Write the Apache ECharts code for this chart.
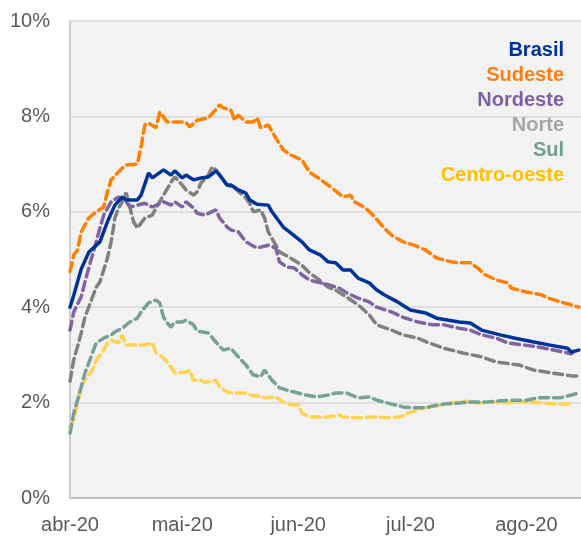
<!DOCTYPE html>
<html>
<head>
<meta charset="utf-8">
<script src="https://cdn.jsdelivr.net/npm/echarts@6/dist/echarts.min.js"></script>
<style>
  html, body { margin: 0; padding: 0; background: #fff; }
  #chart { width: 581px; height: 536px; }
</style>
</head>
<body>
<div id="chart"></div>
<script>
// dias contados a partir de 01/04/2020, valores em %
const mesesPt = ['jan', 'fev', 'mar', 'abr', 'mai', 'jun', 'jul', 'ago', 'set', 'out', 'nov', 'dez'];

const brasilDias = [0, 1, 3, 5, 8, 10, 12, 14, 15, 18, 19, 21, 22, 25, 27, 28, 30, 31, 33, 35, 37, 39, 40, 42, 43, 45, 47, 48, 50, 53, 54, 57, 59, 62, 64, 67, 69, 71, 73, 75, 77, 80, 82, 84, 88, 91, 95, 98, 104, 107, 110, 115, 119, 124, 128, 133, 134, 136];
const brasilValores = [4.0, 4.25, 4.8, 5.15, 5.37, 5.79, 6.14, 6.31, 6.25, 6.25, 6.35, 6.81, 6.71, 6.88, 6.77, 6.86, 6.71, 6.77, 6.67, 6.71, 6.73, 6.86, 6.77, 6.56, 6.56, 6.46, 6.39, 6.25, 6.16, 6.14, 6.0, 5.68, 5.56, 5.37, 5.2, 5.09, 4.95, 4.93, 4.78, 4.78, 4.61, 4.51, 4.36, 4.26, 4.09, 3.94, 3.88, 3.77, 3.69, 3.67, 3.52, 3.42, 3.35, 3.27, 3.21, 3.14, 3.06, 3.1];

const sudesteDias = [0, 1, 2, 3, 5, 7, 9, 10, 11, 14, 15, 18, 19, 20, 21, 23, 24, 26, 28, 31, 32, 34, 37, 40, 41, 43, 44, 45, 47, 49, 50, 51, 53, 55, 57, 59, 62, 64, 66, 69, 70, 73, 75, 76, 79, 81, 84, 86, 89, 92, 95, 98, 102, 104, 107, 109, 111, 114, 117, 118, 122, 126, 128, 131, 134, 136];
const sudesteValores = [4.75, 5.09, 5.2, 5.58, 5.87, 6.0, 6.1, 6.42, 6.67, 6.92, 6.98, 7.0, 7.36, 7.82, 7.86, 7.76, 8.09, 7.88, 7.88, 7.88, 7.78, 7.92, 7.97, 8.24, 8.18, 8.13, 7.92, 8.03, 7.88, 7.88, 7.97, 7.76, 7.82, 7.55, 7.3, 7.19, 7.09, 6.83, 6.73, 6.56, 6.5, 6.31, 6.35, 6.21, 6.08, 5.93, 5.66, 5.51, 5.37, 5.3, 5.2, 5.03, 4.95, 4.93, 4.93, 4.82, 4.68, 4.57, 4.51, 4.4, 4.32, 4.26, 4.19, 4.11, 4.05, 4.0];

const nordesteDias = [0, 1, 3, 4, 5, 7, 8, 9, 11, 13, 15, 16, 18, 20, 22, 25, 27, 28, 30, 31, 33, 34, 36, 39, 40, 42, 43, 45, 47, 50, 53, 55, 56, 58, 60, 62, 64, 67, 69, 72, 74, 77, 80, 82, 86, 89, 93, 97, 100, 104, 107, 110, 114, 117, 121, 125, 128, 132, 134, 135];
const nordesteValores = [3.52, 3.9, 4.22, 4.53, 4.82, 5.37, 5.66, 5.93, 6.21, 6.31, 6.21, 6.1, 6.14, 6.18, 6.1, 6.21, 6.14, 6.21, 6.1, 6.21, 6.08, 5.97, 5.93, 6.04, 5.87, 5.68, 5.62, 5.58, 5.37, 5.24, 5.3, 5.24, 4.95, 4.84, 4.82, 4.68, 4.57, 4.51, 4.47, 4.4, 4.3, 4.19, 4.11, 4.0, 3.9, 3.79, 3.69, 3.63, 3.63, 3.56, 3.52, 3.42, 3.35, 3.25, 3.21, 3.17, 3.12, 3.06, 3.02, 3.1];

const norteDias = [0, 1, 2, 3, 4, 6, 7, 8, 10, 11, 12, 13, 14, 15, 17, 18, 20, 22, 23, 25, 27, 28, 30, 31, 33, 34, 35, 37, 38, 39, 42, 44, 47, 48, 49, 51, 52, 53, 55, 56, 59, 62, 64, 66, 69, 71, 74, 77, 80, 82, 86, 89, 93, 96, 100, 105, 110, 114, 120, 124, 129, 134, 136];
const norteValores = [2.45, 2.9, 3.17, 3.46, 3.79, 4.21, 4.42, 4.53, 5.03, 5.37, 5.87, 6.08, 6.21, 6.4, 5.79, 5.66, 5.87, 5.93, 6.08, 6.35, 6.62, 6.73, 6.56, 6.46, 6.35, 6.42, 6.6, 6.77, 6.94, 6.88, 6.56, 6.5, 6.29, 6.18, 6.0, 6.04, 5.87, 5.58, 5.3, 5.16, 5.03, 4.88, 4.72, 4.61, 4.42, 4.36, 4.21, 4.05, 3.84, 3.63, 3.52, 3.42, 3.35, 3.25, 3.14, 3.04, 2.96, 2.85, 2.79, 2.68, 2.62, 2.56, 2.56];

const sulDias = [0, 1, 2, 3, 4, 5, 6, 7, 9, 11, 12, 14, 16, 18, 19, 21, 23, 24, 25, 26, 27, 28, 30, 31, 33, 34, 37, 39, 41, 43, 45, 47, 49, 51, 52, 54, 56, 58, 61, 63, 66, 69, 71, 74, 77, 80, 82, 85, 89, 92, 95, 97, 100, 104, 107, 111, 114, 118, 122, 125, 129, 131, 134, 136];
const sulValores = [1.36, 1.78, 2.05, 2.33, 2.62, 2.83, 3.04, 3.25, 3.35, 3.42, 3.48, 3.56, 3.69, 3.77, 3.9, 4.09, 4.15, 4.09, 3.79, 3.67, 3.58, 3.69, 3.69, 3.73, 3.63, 3.5, 3.46, 3.27, 3.1, 3.14, 2.96, 2.79, 2.58, 2.54, 2.68, 2.47, 2.31, 2.26, 2.2, 2.16, 2.12, 2.16, 2.2, 2.2, 2.1, 2.12, 2.05, 1.99, 1.91, 1.89, 1.89, 1.93, 1.97, 1.99, 2.01, 2.01, 2.03, 2.05, 2.05, 2.1, 2.1, 2.1, 2.16, 2.2];

const centroOesteDias = [0, 1, 2, 3, 4, 5, 6, 7, 9, 10, 11, 13, 14, 15, 17, 20, 22, 23, 25, 27, 28, 31, 32, 33, 35, 36, 37, 39, 40, 42, 44, 47, 49, 51, 52, 55, 57, 58, 61, 62, 64, 67, 69, 72, 73, 77, 81, 86, 89, 91, 95, 98, 102, 106, 109, 113, 116, 120, 123, 127, 130, 134];
const centroOesteValores = [1.49, 1.64, 1.99, 2.33, 2.47, 2.58, 2.68, 2.89, 3.1, 3.25, 3.31, 3.25, 3.42, 3.21, 3.21, 3.21, 3.25, 3.04, 2.94, 2.75, 2.62, 2.64, 2.68, 2.47, 2.47, 2.43, 2.43, 2.47, 2.33, 2.22, 2.2, 2.2, 2.14, 2.14, 2.1, 2.12, 2.01, 1.97, 1.95, 1.78, 1.7, 1.7, 1.7, 1.74, 1.7, 1.68, 1.7, 1.68, 1.72, 1.8, 1.89, 1.93, 1.99, 2.03, 1.99, 2.01, 1.99, 2.01, 2.01, 1.99, 1.97, 1.97];

const inicio = new Date(2020, 3, 1).getTime();
const umDia = 86400000;

function pontos(dias, valores) {
  return dias.map((d, i) => [inicio + d * umDia, valores[i]]);
}

const regioes = [
  { name: 'Brasil', dias: brasilDias, valores: brasilValores, cor: '#003399', texto: '#003399', tipo: 'solid' },
  { name: 'Sudeste', dias: sudesteDias, valores: sudesteValores, cor: '#FF8000', texto: '#FF7F0E', tipo: [9, 5] },
  { name: 'Nordeste', dias: nordesteDias, valores: nordesteValores, cor: '#8064A2', texto: '#7F5FA5', tipo: [9, 5] },
  { name: 'Norte', dias: norteDias, valores: norteValores, cor: '#808080', texto: '#A6A6A6', tipo: [9, 5] },
  { name: 'Sul', dias: sulDias, valores: sulValores, cor: '#76A296', texto: '#6F9F92', tipo: [9, 5] },
  { name: 'Centro-oeste', dias: centroOesteDias, valores: centroOesteValores, cor: '#FFD34F', texto: '#FFC000', tipo: [9, 5] }
];

const chart = echarts.init(document.getElementById('chart'));
chart.setOption({
  animation: false,
  textStyle: { fontFamily: 'Liberation Sans, Arial, sans-serif' },
  grid: {
    left: 70, right: 0, top: 21, bottom: 38,
    show: true, backgroundColor: '#F2F2F2', borderWidth: 0
  },
  legend: {
    orient: 'vertical',
    right: 7,
    top: 35,
    align: 'right',
    icon: 'none',
    itemWidth: 0,
    itemHeight: 14,
    itemGap: 5,
    selectedMode: false,
    textStyle: { fontSize: 20, fontWeight: 'bold', lineHeight: 20, padding: 0 },
    data: regioes.map(r => ({ name: r.name, textStyle: { color: r.texto } }))
  },
  xAxis: {
    type: 'time',
    min: inicio,
    max: inicio + 136.6 * umDia,
    axisLine: { show: true, lineStyle: { color: '#BFBFBF', width: 2 } },
    axisTick: { show: false },
    splitLine: { show: false },
    axisLabel: {
      color: '#595959',
      fontSize: 20,
      margin: 17,
      hideOverlap: false,
      formatter: function (v) {
        const d = new Date(v);
        return mesesPt[d.getMonth()] + '-' + String(d.getFullYear()).slice(2);
      }
    }
  },
  yAxis: {
    type: 'value',
    min: 0,
    max: 10,
    interval: 2,
    axisLine: { show: true, lineStyle: { color: '#BFBFBF', width: 1.5 } },
    axisTick: { show: false },
    splitLine: { lineStyle: { color: '#D9D9D9', width: 1.5 } },
    axisLabel: { color: '#595959', fontSize: 20, margin: 20, formatter: '{value}%' }
  },
  series: regioes.map(r => ({
    name: r.name,
    type: 'line',
    data: pontos(r.dias, r.valores),
    showSymbol: false,
    symbol: 'none',
    z: r.name === 'Brasil' ? 3 : 2,
    itemStyle: { color: r.cor },
    lineStyle: { color: r.cor, width: 3.5, type: r.tipo, cap: 'round' }
  })).reverse()
});
</script>
</body>
</html>
